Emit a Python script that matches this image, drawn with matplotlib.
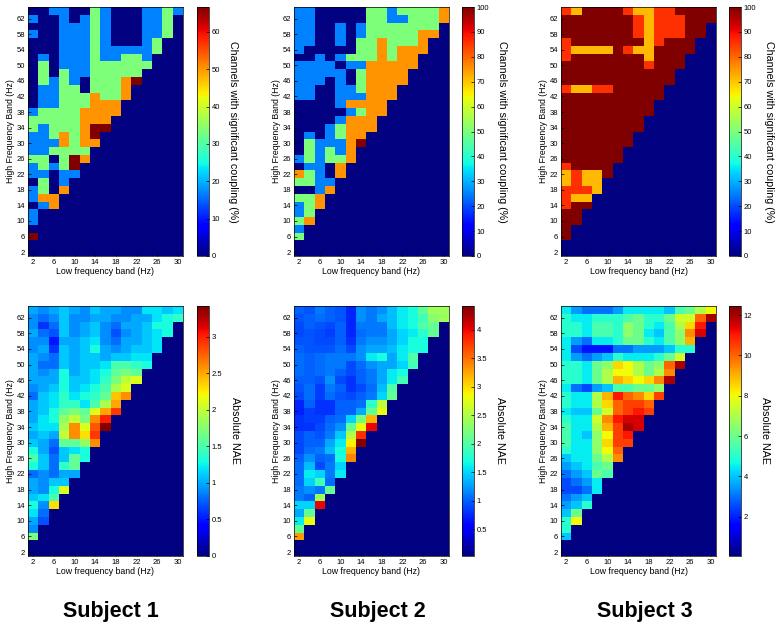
import numpy as np
import matplotlib.pyplot as plt
from matplotlib.ticker import FormatStrFormatter

plt.rcParams['font.family'] = ['Liberation Sans', 'DejaVu Sans']

low_freq = np.arange(2, 31, 2)    # x centres (Hz)
high_freq = np.arange(2, 65, 2)   # y centres (Hz)

# each list below: rows from 64 Hz (top) down to 6 Hz, columns start at 2 Hz
# top row: number of channels with significant coupling
s1_channels = 6
s1_count = [
    [0, 0, 1, 1, 0, 0, 2, 1, 0, 0, 0, 1, 1, 2, 1],
    [1, 0, 0, 1, 0, 1, 2, 1, 0, 0, 0, 1, 1, 2, 0],
    [0, 0, 0, 1, 1, 1, 2, 1, 0, 0, 0, 1, 1, 2],
    [1, 0, 0, 1, 1, 1, 2, 1, 0, 0, 0, 1, 1, 2],
    [0, 0, 0, 1, 1, 1, 2, 1, 0, 0, 0, 1, 2],
    [0, 0, 0, 1, 1, 1, 2, 1, 1, 1, 1, 1, 2],
    [0, 1, 0, 1, 1, 1, 2, 1, 1, 2, 2, 1],
    [0, 2, 0, 1, 1, 1, 2, 2, 2, 2, 2, 2],
    [0, 2, 0, 2, 1, 1, 2, 2, 2, 2, 2],
    [0, 2, 1, 2, 1, 0, 2, 2, 2, 3, 4],
    [0, 1, 1, 2, 2, 0, 2, 2, 2, 3],
    [0, 1, 1, 2, 2, 2, 3, 2, 2, 3],
    [0, 1, 1, 2, 2, 2, 3, 3, 3],
    [1, 2, 2, 2, 2, 3, 3, 3, 3],
    [2, 2, 2, 2, 2, 3, 3, 3],
    [2, 1, 2, 2, 2, 3, 4, 4],
    [1, 1, 2, 3, 2, 3, 4],
    [1, 1, 1, 3, 2, 3, 3],
    [1, 1, 2, 2, 2, 2],
    [2, 2, 0, 2, 4, 3],
    [1, 2, 1, 2, 4],
    [1, 1, 0, 1, 1],
    [0, 2, 0, 1],
    [1, 2, 0, 3],
    [1, 3, 3],
    [0, 1, 3],
    [1, 0],
    [1, 0],
    [0],
    [4],
]

s2_channels = 4
s2_count = [
    [1, 1, 0, 0, 0, 0, 0, 2, 2, 1, 2, 2, 2, 2, 3],
    [1, 1, 0, 0, 0, 0, 0, 2, 2, 1, 1, 2, 2, 2, 3],
    [1, 1, 0, 0, 1, 0, 1, 2, 2, 2, 2, 2, 2, 2],
    [1, 1, 0, 0, 1, 0, 1, 2, 2, 2, 2, 2, 3, 3],
    [1, 1, 0, 0, 1, 0, 2, 2, 3, 2, 2, 2, 3],
    [1, 0, 0, 0, 0, 0, 2, 2, 3, 2, 3, 3, 3],
    [0, 0, 1, 0, 1, 2, 2, 2, 3, 2, 3, 3],
    [1, 1, 1, 1, 0, 1, 1, 3, 3, 3, 3, 3],
    [1, 1, 1, 1, 1, 0, 2, 3, 3, 3, 3],
    [1, 1, 1, 0, 1, 0, 2, 3, 3, 3, 3],
    [1, 1, 0, 0, 1, 1, 2, 3, 3, 3],
    [1, 1, 0, 0, 1, 1, 1, 3, 3, 3],
    [0, 0, 0, 0, 1, 3, 3, 3, 3],
    [0, 0, 0, 0, 0, 1, 2, 3, 3],
    [0, 0, 0, 0, 1, 3, 3, 3],
    [0, 0, 0, 1, 2, 3, 3, 3],
    [0, 1, 0, 1, 2, 3, 3],
    [0, 2, 1, 1, 1, 3, 4],
    [0, 2, 1, 2, 1, 3],
    [1, 2, 1, 2, 2, 3],
    [0, 1, 1, 0, 3],
    [3, 2, 1, 0, 3],
    [2, 2, 1, 1],
    [0, 0, 1, 3],
    [2, 2, 3],
    [1, 2, 3],
    [1, 2],
    [2, 3],
    [1],
    [2],
]

s3_channels = 7
s3_count = [
    [6, 5, 7, 7, 7, 7, 6, 5, 5, 6, 6, 7, 7, 7, 7],
    [7, 7, 7, 7, 7, 7, 7, 6, 5, 6, 6, 6, 7, 7, 7],
    [7, 7, 7, 7, 7, 7, 7, 6, 5, 6, 6, 6, 7, 7],
    [7, 7, 7, 7, 7, 7, 7, 6, 5, 6, 6, 6, 7, 7],
    [6, 7, 7, 7, 7, 7, 7, 7, 5, 6, 7, 7, 7],
    [6, 5, 5, 5, 5, 7, 6, 5, 5, 7, 7, 7, 7],
    [6, 7, 7, 7, 7, 7, 7, 7, 5, 7, 7, 7],
    [7, 7, 7, 7, 7, 7, 7, 7, 6, 7, 7, 7],
    [7, 7, 7, 7, 7, 7, 7, 7, 7, 7, 7],
    [7, 7, 7, 7, 7, 7, 7, 7, 7, 7, 7],
    [6, 5, 5, 6, 6, 7, 7, 7, 7, 7],
    [7, 7, 7, 7, 7, 7, 7, 7, 7, 7],
    [7, 7, 7, 7, 7, 7, 7, 7, 7],
    [7, 7, 7, 7, 7, 7, 7, 7, 7],
    [7, 7, 7, 7, 7, 7, 7, 7],
    [7, 7, 7, 7, 7, 7, 7, 7],
    [7, 7, 7, 7, 7, 7, 7],
    [7, 7, 7, 7, 7, 7, 7],
    [7, 7, 7, 7, 7, 7],
    [7, 7, 7, 7, 7, 7],
    [6, 7, 7, 7, 7],
    [5, 6, 5, 5, 7],
    [5, 6, 5, 5],
    [6, 6, 6, 5],
    [6, 5, 5],
    [6, 7, 7],
    [7, 7],
    [7, 7],
    [7],
    [7],
]

# bottom row: absolute NAE
s1_nae = [
    [1.0, 0.9, 1.0, 1.1, 1.0, 0.9, 1.1, 1.0, 1.0, 0.9, 0.9, 1.2, 1.2, 1.1, 1.2],
    [0.9, 0.8, 0.9, 1.1, 0.9, 0.9, 1.0, 1.0, 0.9, 0.9, 1.0, 1.0, 1.2, 1.3, 1.4],
    [0.9, 0.6, 0.8, 1.1, 0.9, 1.0, 1.1, 0.9, 0.8, 1.0, 1.0, 1.1, 1.3, 1.3],
    [1.0, 0.8, 0.7, 1.1, 0.9, 1.0, 1.1, 0.9, 0.7, 0.9, 1.0, 1.1, 1.2, 1.3],
    [0.9, 0.9, 0.5, 1.0, 1.0, 1.1, 1.2, 0.9, 0.8, 1.0, 1.0, 1.1, 1.2],
    [0.9, 1.0, 0.6, 1.1, 1.0, 1.1, 1.3, 1.0, 0.9, 1.0, 1.1, 1.1, 1.2],
    [1.0, 0.9, 0.8, 1.1, 1.0, 1.1, 1.1, 1.0, 1.1, 1.1, 1.2, 1.2],
    [1.0, 0.8, 0.8, 1.1, 1.0, 1.1, 1.1, 1.2, 1.5, 1.5, 1.4, 1.3],
    [1.0, 0.9, 1.0, 1.3, 1.0, 1.1, 1.2, 1.3, 1.6, 1.7, 1.6],
    [1.0, 1.0, 1.0, 1.3, 1.1, 1.1, 1.2, 1.4, 1.7, 2.0, 2.1],
    [0.9, 1.0, 1.1, 1.3, 1.1, 1.2, 1.3, 1.5, 1.9, 2.1],
    [0.8, 1.1, 1.2, 1.4, 1.2, 1.3, 1.4, 1.6, 2.4, 2.6],
    [1.0, 1.1, 1.2, 1.4, 1.4, 1.2, 1.5, 1.9, 2.5],
    [1.0, 1.1, 1.3, 1.6, 1.7, 1.6, 2.1, 2.5, 2.9],
    [1.0, 1.2, 1.3, 1.8, 2.0, 1.7, 2.6, 3.0],
    [1.1, 1.2, 1.2, 1.9, 2.6, 2.1, 2.8, 3.4],
    [1.0, 1.1, 1.0, 2.0, 2.6, 2.3, 2.9],
    [1.1, 1.0, 0.8, 1.6, 1.6, 1.8, 2.6],
    [1.3, 1.0, 0.7, 1.1, 1.2, 1.3],
    [1.5, 1.1, 0.8, 1.1, 1.6, 1.3],
    [1.3, 1.1, 0.8, 1.4, 1.6],
    [0.8, 0.9, 0.8, 1.0, 1.0],
    [1.0, 0.9, 1.1, 1.1],
    [1.0, 0.9, 1.3, 2.1],
    [1.1, 1.2, 1.5],
    [1.3, 0.9, 2.3],
    [1.2, 0.8],
    [1.0, 0.7],
    [0.9],
    [1.7],
]

s2_nae = [
    [1.0, 0.95, 1.1, 1.0, 0.95, 0.75, 1.2, 1.1, 1.2, 1.4, 1.6, 1.7, 2.1, 2.4, 2.4],
    [0.95, 1.0, 1.05, 1.0, 0.95, 0.75, 1.2, 1.1, 1.3, 1.4, 1.6, 1.7, 1.9, 2.3, 2.4],
    [0.9, 1.0, 0.95, 0.9, 1.0, 0.75, 1.1, 1.1, 1.1, 1.4, 1.6, 1.7, 2.0, 2.1],
    [0.9, 0.95, 0.9, 0.85, 1.0, 0.75, 1.05, 1.1, 1.1, 1.3, 1.5, 1.6, 1.8, 2.1],
    [0.95, 0.95, 0.9, 0.9, 1.0, 0.8, 1.1, 1.2, 1.2, 1.3, 1.5, 1.7, 1.7],
    [1.0, 0.95, 0.95, 0.95, 1.05, 0.9, 1.2, 1.3, 1.3, 1.4, 1.6, 1.7, 1.7],
    [1.05, 1.0, 1.05, 1.1, 1.1, 1.1, 1.2, 1.6, 1.7, 1.3, 1.6, 2.0],
    [1.05, 1.0, 1.05, 1.1, 1.1, 0.9, 1.05, 1.2, 1.3, 1.3, 1.5, 1.9],
    [1.05, 1.0, 1.05, 1.1, 1.0, 0.9, 1.0, 1.1, 1.3, 1.6, 1.7],
    [1.0, 1.0, 0.95, 1.2, 0.9, 0.8, 1.0, 1.1, 1.3, 1.6, 1.9],
    [0.95, 1.05, 0.85, 1.1, 1.0, 0.8, 0.9, 1.05, 1.4, 2.0],
    [0.9, 1.05, 0.85, 1.05, 0.95, 0.9, 1.0, 1.1, 1.5, 2.1],
    [0.75, 1.0, 0.8, 0.8, 1.0, 1.0, 1.05, 1.8, 2.6],
    [0.7, 0.85, 0.8, 0.8, 1.0, 1.0, 1.3, 2.1, 2.8],
    [0.8, 0.85, 0.85, 1.0, 1.05, 1.5, 2.2, 3.2],
    [0.8, 0.8, 0.9, 1.05, 1.2, 2.1, 2.8, 4.0],
    [0.9, 1.0, 0.95, 1.1, 1.45, 2.5, 3.8],
    [0.9, 1.0, 1.0, 1.3, 1.6, 2.9, 4.4],
    [0.9, 1.05, 1.1, 1.4, 1.7, 3.2],
    [1.0, 1.2, 1.0, 1.05, 1.7, 3.4],
    [1.05, 1.4, 0.9, 1.1, 1.5],
    [1.05, 1.6, 1.5, 1.1, 1.6],
    [1.05, 1.5, 1.9, 1.05],
    [1.1, 1.2, 1.1, 2.1],
    [1.1, 1.0, 2.4],
    [1.5, 1.5, 4.0],
    [1.3, 2.1],
    [1.6, 2.8],
    [2.1],
    [3.3],
]

s3_nae = [
    [4.5, 3.5, 3.0, 3.0, 3.0, 3.5, 4.5, 4.5, 4.5, 4.5, 4.0, 5.5, 6.0, 7.0, 8.0],
    [5.0, 4.5, 4.5, 5.0, 5.0, 5.0, 5.5, 6.0, 5.0, 5.0, 6.0, 7.5, 7.5, 10.0, 12.0],
    [5.0, 5.0, 4.5, 5.5, 5.5, 5.0, 6.5, 6.0, 5.0, 4.5, 5.5, 7.0, 8.5, 11.0],
    [5.0, 5.0, 4.5, 5.5, 5.5, 5.0, 6.5, 6.0, 4.5, 4.0, 5.5, 6.5, 9.5, 11.5],
    [4.5, 3.5, 3.0, 4.5, 4.5, 5.0, 6.0, 6.0, 5.0, 4.5, 5.5, 6.5, 9.0],
    [4.5, 2.5, 1.8, 1.8, 1.8, 3.0, 3.0, 3.5, 3.5, 3.5, 4.0, 5.0, 5.0],
    [4.5, 3.5, 3.0, 3.5, 4.0, 5.0, 4.5, 4.5, 4.5, 5.0, 6.0, 7.5],
    [5.0, 5.0, 4.5, 6.0, 6.5, 8.5, 8.0, 7.0, 6.0, 6.5, 10.0, 12.0],
    [5.0, 5.0, 4.5, 6.0, 7.0, 8.0, 8.0, 7.0, 6.0, 7.0, 9.5],
    [5.0, 5.0, 4.5, 6.0, 7.0, 9.0, 8.5, 8.0, 8.5, 9.5, 12.0],
    [4.5, 3.0, 2.5, 3.5, 4.0, 5.5, 5.5, 6.0, 6.0, 6.5],
    [5.0, 4.5, 4.5, 7.0, 9.0, 11.0, 10.0, 9.5, 8.5, 10.5],
    [5.0, 4.5, 4.5, 7.0, 8.5, 10.0, 10.5, 10.5, 10.0],
    [4.5, 4.0, 4.0, 6.0, 7.5, 10.0, 10.5, 11.0, 10.5],
    [5.0, 4.5, 4.5, 7.5, 9.5, 11.0, 11.5, 11.5],
    [5.5, 4.5, 4.5, 7.0, 9.0, 10.5, 12.0, 11.5],
    [5.5, 4.5, 4.0, 6.5, 8.0, 10.5, 11.0],
    [5.5, 4.5, 4.5, 6.5, 8.5, 10.5, 10.5],
    [5.0, 4.5, 4.5, 6.5, 8.0, 10.0],
    [4.0, 4.5, 4.5, 6.0, 7.0, 9.5],
    [3.5, 4.0, 4.5, 5.5, 6.0],
    [3.0, 3.5, 4.0, 6.0, 5.5],
    [2.5, 3.0, 3.5, 4.5],
    [2.5, 2.5, 3.0, 4.5],
    [3.0, 3.5, 4.0],
    [3.5, 4.0, 5.0],
    [4.0, 6.0],
    [5.0, 8.0],
    [5.0],
    [4.0],
]

subjects = ['Subject 1', 'Subject 2', 'Subject 3']
pct_label = 'Channels with significant coupling (%)'
nae_label = 'Absolute NAE'


def to_grid(rows):
    z = np.zeros((len(high_freq), len(low_freq)))
    for k, row in enumerate(rows):
        r = len(high_freq) - 1 - k
        z[r, :len(row)] = row
    return z


top_data = [
    (to_grid(s1_count) * 100.0 / s1_channels, 0, 100.0 * 4 / 6, np.arange(0, 61, 10)),
    (to_grid(s2_count) * 100.0 / s2_channels, 0, 100, np.arange(0, 101, 10)),
    (to_grid(s3_count) * 100.0 / s3_channels, 0, 100, np.arange(0, 101, 10)),
]
bottom_data = [
    (to_grid(s1_nae), 0, 3.42, np.arange(0, 3.01, 0.5)),
    (to_grid(s2_nae), 0.03, 4.42, np.arange(0.5, 4.01, 0.5)),
    (to_grid(s3_nae), 0.05, 12.45, np.arange(2, 12.1, 2)),
]

W, H = 780.0, 625.0
fig = plt.figure(figsize=(7.8, 6.25), dpi=100)

x_edges = np.append(low_freq - 1, low_freq[-1] + 1)
y_edges = np.append(high_freq - 1, high_freq[-1] + 1)

plot_x = [28, 294, 561]
cbar_x = [197, 462, 729]
row_y = [(7, 256), (306, 556)]


def draw(col, row, z, vmin, vmax, cticks, clabel):
    y0, y1 = row_y[row]
    ax = fig.add_axes([plot_x[col] / W, 1 - y1 / H, 155 / W, (y1 - y0) / H])
    m = ax.pcolormesh(x_edges, y_edges, z, cmap='jet', vmin=vmin, vmax=vmax)
    ax.set_xlim(1, 31)
    ax.set_ylim(1, 65)
    ax.set_xticks(np.arange(2, 31, 4))
    ax.set_yticks(np.arange(2, 63, 4))
    ax.tick_params(direction='in', length=2, width=0.5, labelsize=5.5, pad=2)
    ax.set_xlabel('Low frequency band (Hz)', fontsize=6.3, labelpad=1)
    ax.set_ylabel('High Frequency Band (Hz)', fontsize=6.3, labelpad=1)
    for s in ax.spines.values():
        s.set_linewidth(0.5)
    cax = fig.add_axes([cbar_x[col] / W, 1 - y1 / H, 12 / W, (y1 - y0) / H])
    cb = fig.colorbar(m, cax=cax)
    cb.set_ticks(cticks)
    cb.ax.yaxis.set_major_formatter(FormatStrFormatter('%g'))
    cb.ax.tick_params(direction='in', length=2, width=0.5, labelsize=5.5, pad=2)
    cb.outline.set_linewidth(0.5)
    cb.set_label(clabel, rotation=270, fontsize=7.7, labelpad=13)


for i in range(3):
    z, lo, hi, ct = top_data[i]
    draw(i, 0, z, lo, hi, ct, pct_label)
    z, lo, hi, ct = bottom_data[i]
    draw(i, 1, z, lo, hi, ct, nae_label)

label_x = [111, 378, 645]
for i in range(3):
    fig.text(label_x[i] / W, 1 - 611 / H, subjects[i], ha='center', va='center',
             fontsize=15.5, fontweight='bold')

fig.savefig('out.png', dpi=100)
